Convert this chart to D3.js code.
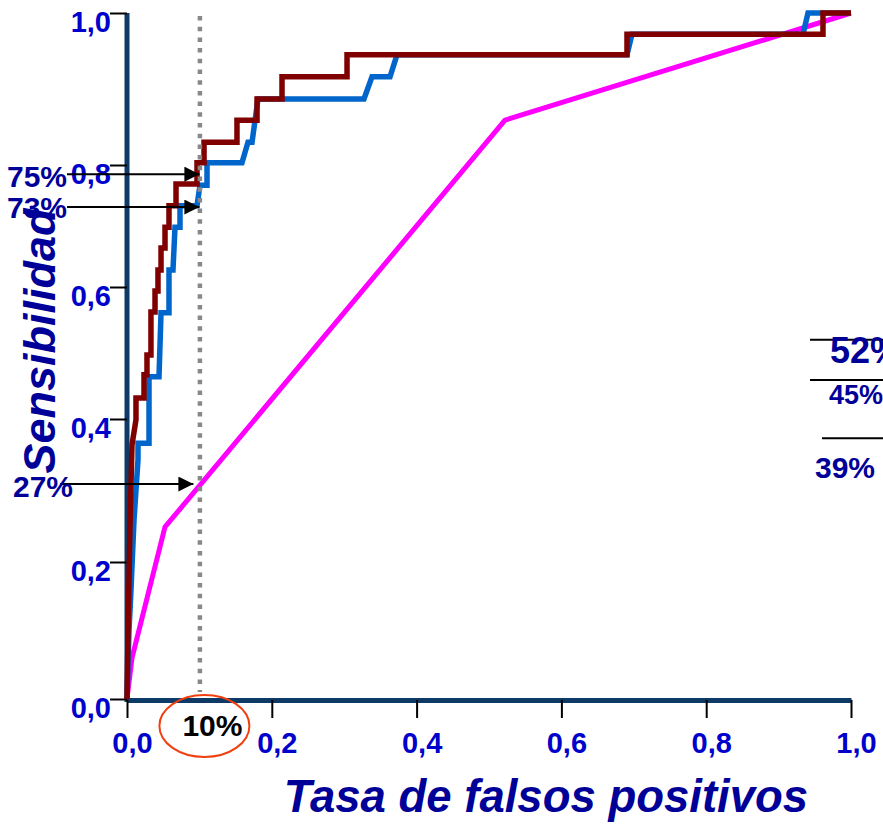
<!DOCTYPE html>
<html>
<head>
<meta charset="utf-8">
<script src="https://cdn.jsdelivr.net/npm/d3@7"></script>
<style>
  html, body { margin: 0; padding: 0; background: #fff; }
  svg { display: block; font-family: Arial, "Liberation Sans", sans-serif; }
</style>
</head>
<body>
<svg id="chart" width="883" height="824"></svg>
<script>
// ROC curves: [false positive rate, sensitivity]
const rocBlue = [
  [0, 0], [0.0028, 0.101], [0.0055, 0.159], [0.0097, 0.259], [0.0152, 0.343],
  [0.0152, 0.366], [0.0304, 0.366], [0.0304, 0.464], [0.0442, 0.464], [0.0470, 0.561],
  [0.0580, 0.561], [0.0580, 0.628], [0.0635, 0.628], [0.0663, 0.698], [0.0732, 0.698],
  [0.0732, 0.733], [0.0967, 0.733], [0.1008, 0.767], [0.1105, 0.767], [0.1105, 0.803],
  [0.1588, 0.803], [0.1671, 0.830], [0.1727, 0.830], [0.1809, 0.887], [0.3273, 0.887],
  [0.3384, 0.916], [0.3633, 0.916], [0.3729, 0.945], [0.6906, 0.945], [0.6975, 0.972],
  [0.9337, 0.972], [0.9406, 1.0], [1.0, 1.0]
];

const rocRed = [
  [0, 0], [0.0014, 0.096], [0.0041, 0.249], [0.0069, 0.364], [0.0124, 0.399],
  [0.0124, 0.432], [0.0235, 0.432], [0.0235, 0.467], [0.0276, 0.467], [0.0276, 0.497],
  [0.0331, 0.497], [0.0331, 0.562], [0.0387, 0.562], [0.0387, 0.594], [0.0428, 0.594],
  [0.0428, 0.628], [0.0470, 0.628], [0.0470, 0.664], [0.0525, 0.664], [0.0525, 0.698],
  [0.0580, 0.698], [0.0580, 0.733], [0.0677, 0.733], [0.0677, 0.769], [0.0967, 0.769],
  [0.0967, 0.803], [0.1064, 0.803], [0.1064, 0.830], [0.1519, 0.830], [0.1519, 0.859],
  [0.1796, 0.859], [0.1796, 0.887], [0.2141, 0.887], [0.2141, 0.916], [0.3039, 0.916],
  [0.3039, 0.945], [0.6906, 0.945], [0.6906, 0.972], [0.9613, 0.972], [0.9613, 1.0],
  [1.0, 1.0]
];

const rocPink = [
  [0, 0], [0.0069, 0.060], [0.0525, 0.249], [0.5221, 0.859], [1.0, 1.0]
];

// Axis ticks
const xTicks = [0, 0.2, 0.4, 0.6, 0.8, 1.0];
const yTicks = [0, 0.2, 0.4, 0.6, 0.8, 1.0];

// Reference false positive rate and annotations
const cutoffFpr = 0.1;
const cutoffLabel = "10%";
const arrowLabels = ["75%", "73%", "27%"];
const arrowSens = [0.785, 0.731, 0.309];
const sideLabels = ["52%", "45%", "39%"];
const sideSens = [0.52, 0.459, 0.373];

const axisTitleX = "Tasa de falsos positivos";
const axisTitleY = "Sensibilidad";

const svg = d3.select("#chart");

const x = d3.scaleLinear().domain([0, 1]).range([127, 851]);
const y = d3.scaleLinear().domain(yTicks).range([699, 562, 419, 287, 165, 13]);

const fmt = d => d.toFixed(1).replace(".", ",");
const navy = "#0d3a66";
const tickBlue = "#0000cc";
const darkBlue = "#000099";

// Curves
const line = d3.line().x(d => x(d[0])).y(d => y(d[1]));

// Axes
const yAxis = svg.append("g")
  .attr("transform", `translate(${x(0)},0)`)
  .call(d3.axisLeft(y).tickValues(yTicks).tickSize(17).tickSizeOuter(0).tickFormat(fmt));
const xAxis = svg.append("g")
  .attr("transform", `translate(0,${y(0) + 1})`)
  .call(d3.axisBottom(x).tickValues(xTicks).tickSize(18).tickSizeOuter(0).tickFormat(fmt));

[yAxis, xAxis].forEach(g => {
  g.select(".domain").attr("stroke", navy).attr("stroke-width", 5);
  g.selectAll(".tick line").attr("stroke", "#000").attr("stroke-width", 2);
  g.selectAll(".tick text")
    .attr("fill", tickBlue)
    .attr("font-size", 29)
    .attr("font-weight", "bold")
    .attr("font-family", "Arial, 'Liberation Sans', sans-serif");
});
yAxis.select(".domain").attr("d", `M0,${y(1)}V${y(0) + 3}`);
yAxis.selectAll(".tick text").attr("x", -16).attr("dy", null).attr("y", 18);
xAxis.selectAll(".tick text").attr("y", 53).attr("dy", null).attr("dx", 5);

svg.append("path").datum(rocPink)
  .attr("d", line).attr("fill", "none")
  .attr("stroke", "#ff00ff").attr("stroke-width", 5).attr("stroke-linejoin", "round");
svg.append("path").datum(rocBlue)
  .attr("d", line).attr("fill", "none")
  .attr("stroke", "#0066cc").attr("stroke-width", 5.5).attr("stroke-linejoin", "miter");
svg.append("path").datum(rocRed)
  .attr("d", line).attr("fill", "none")
  .attr("stroke", "#800000").attr("stroke-width", 5.5).attr("stroke-linejoin", "miter");

// Dotted reference line at the cutoff rate
svg.append("line")
  .attr("x1", x(cutoffFpr) + 0.5).attr("x2", x(cutoffFpr) + 0.5)
  .attr("y1", y(1) + 3).attr("y2", y(0) - 7)
  .attr("stroke", "#888").attr("stroke-width", 4.5).attr("stroke-dasharray", "4.5 6.2");

// Arrows pointing to the sensitivity at the cutoff
const defs = svg.append("defs");
defs.append("marker")
  .attr("id", "arrowhead")
  .attr("viewBox", "0 0 10 10")
  .attr("refX", 10).attr("refY", 5)
  .attr("markerUnits", "userSpaceOnUse")
  .attr("markerWidth", 16).attr("markerHeight", 15)
  .attr("orient", "auto")
  .append("path").attr("d", "M0,0L10,5L0,10Z").attr("fill", "#000");

const arrowStart = [67, 67, 60];
const labelLeft = [7, 7, 13];
const labelDy = [13, 11, 13];
arrowSens.forEach((s, i) => {
  svg.append("line")
    .attr("x1", arrowStart[i]).attr("x2", x(cutoffFpr) - (i === 2 ? 6 : 0))
    .attr("y1", y(s)).attr("y2", y(s))
    .attr("stroke", "#000").attr("stroke-width", 2)
    .attr("marker-end", "url(#arrowhead)");
  svg.append("text")
    .attr("x", labelLeft[i]).attr("y", y(s) + labelDy[i])
    .attr("fill", darkBlue).attr("font-size", 30).attr("font-weight", "bold")
    .text(arrowLabels[i]);
});

// Side annotations
const sideLineStart = [810, 810, 822];
const sideTextX = [830, 829, 815];
const sideTextDy = [23, 24, 40];
const sideTextSize = [36, 27, 30];
sideSens.forEach((s, i) => {
  svg.append("line")
    .attr("x1", sideLineStart[i]).attr("x2", 883)
    .attr("y1", y(s)).attr("y2", y(s))
    .attr("stroke", "#000").attr("stroke-width", 2);
  svg.append("text")
    .attr("x", sideTextX[i]).attr("y", y(s) + sideTextDy[i])
    .attr("fill", darkBlue).attr("font-size", sideTextSize[i]).attr("font-weight", "bold")
    .text(sideLabels[i]);
});

// Circled cutoff label
svg.append("ellipse")
  .attr("cx", x(cutoffFpr) + 5).attr("cy", 726)
  .attr("rx", 45).attr("ry", 31)
  .attr("fill", "none").attr("stroke", "#f04010").attr("stroke-width", 2);
svg.append("text")
  .attr("x", x(cutoffFpr) + 13).attr("y", 736)
  .attr("text-anchor", "middle")
  .attr("fill", "#000").attr("font-size", 30).attr("font-weight", "bold")
  .text(cutoffLabel);

// Axis titles
svg.append("text")
  .attr("x", 546).attr("y", 812)
  .attr("text-anchor", "middle")
  .attr("fill", darkBlue).attr("font-size", 45.5)
  .attr("font-weight", "bold").attr("font-style", "italic")
  .text(axisTitleX);
svg.append("text")
  .attr("transform", "translate(55,341) rotate(-90)")
  .attr("text-anchor", "middle")
  .attr("fill", darkBlue).attr("font-size", 45)
  .attr("font-weight", "bold").attr("font-style", "italic")
  .text(axisTitleY);
</script>
</body>
</html>
